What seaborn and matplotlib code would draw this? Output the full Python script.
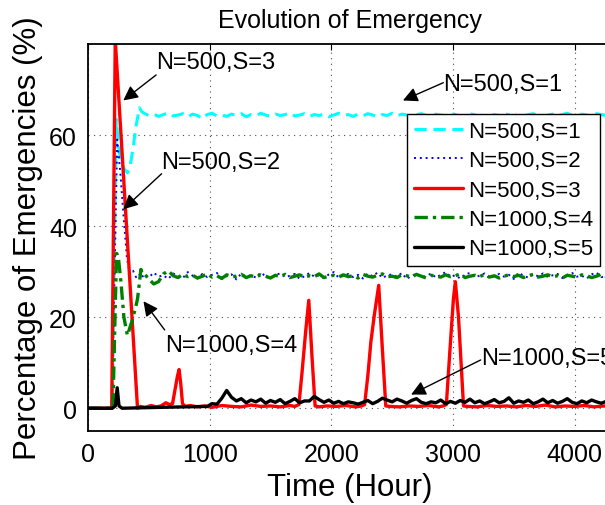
import matplotlib
matplotlib.use("Agg")
import seaborn as sns
from matplotlib import pyplot as plt

# time grid for the steady part of the curves (hours), runs a bit past the right edge
tail_hours = list(range(460, 4341, 40))

# N=500, S=1
s1_hours = [0, 150, 200, 215, 232, 250, 270, 300, 324, 345, 370, 395, 423, 440] + tail_hours
s1_vals = [0, 0, 0, 30, 63.5, 58, 54, 52.5, 51.7, 53, 57, 62, 66, 65.2,
           64.8, 64.3, 64.6, 64.1, 64.5, 64.9, 64.2, 64.4, 64.7, 64.0, 64.6, 64.3, 63.6, 64.5, 64.8, 64.2, 64.4, 64.1, 64.6, 64.3,
           64.7, 64.0, 64.5, 64.2, 64.8, 64.4, 64.1, 64.6, 64.3, 64.5, 64.9, 64.2, 64.4, 64.7, 64.1, 64.5, 64.3, 64.6, 64.0, 64.4,
           64.8, 64.3, 64.5, 64.1, 64.6, 64.2, 64.7, 64.4, 64.0, 64.5, 64.3, 64.8, 64.2, 64.6, 64.4, 64.1, 64.5, 64.7, 64.3, 64.0,
           64.6, 64.4, 64.2, 64.8, 64.5, 64.1, 64.3, 64.7, 64.4, 64.2, 64.6, 64.0, 64.5, 64.3, 64.8, 64.4, 64.1, 64.6, 64.2, 64.5,
           64.7, 64.3, 64.0, 64.4, 64.6, 64.2, 64.5, 64.8, 64.3, 64.1, 64.6, 64.4, 64.2, 64.7, 64.5, 64.3, 64.6, 64.4]

# N=500, S=2
s2_hours = [0, 195, 215, 240, 265, 290, 320, 345, 370, 395, 420, 440] + tail_hours
s2_vals = [0, 0, 25, 59, 52, 43, 33, 29.5, 30.2, 28.8, 29.5, 28.6,
           29.4, 28.7, 29.8, 28.9, 29.2, 28.4, 29.6, 29.0, 28.6, 29.9, 29.1, 28.5, 29.5, 28.8, 29.3, 29.7, 28.6, 29.0, 29.4, 28.3,
           29.6, 28.9, 29.2, 28.7, 29.8, 29.0, 28.5, 29.3, 29.6, 28.8, 29.1, 29.5, 28.4, 29.0, 29.7, 28.9, 29.2, 28.6, 29.4, 29.9,
           28.7, 29.1, 29.5, 28.8, 29.3, 28.5, 29.6, 29.0, 29.8, 28.6, 29.2, 29.4, 28.9, 29.7, 28.4, 29.1, 29.5, 28.8, 29.0, 29.6,
           28.7, 29.3, 29.9, 28.9, 29.2, 28.5, 29.4, 29.7, 28.8, 29.1, 29.6, 28.6, 29.0, 29.5, 28.9, 29.3, 28.4, 29.8, 29.1, 28.7,
           29.4, 29.0, 29.6, 28.8, 29.2, 29.5, 28.6, 29.3, 29.7, 28.9, 29.1, 28.5, 29.4, 29.8, 28.8, 29.0, 29.3, 28.7]

# N=500, S=3
s3_hours = [0, 195, 224, 407, 430, 470, 520, 560, 600, 640, 670, 695, 715, 735, 749, 762, 777, 800,
            840, 900, 960, 1020, 1100, 1180, 1260, 1340, 1420, 1500, 1580, 1660, 1700,
            1734, 1760, 1790, 1815, 1840, 1867, 1900, 1960, 2040, 2120, 2200, 2250,
            2274, 2300, 2326, 2354, 2390, 2420, 2448, 2480, 2560, 2640, 2720, 2800, 2880, 2920,
            2946, 2976, 3004, 3020, 3046, 3087, 3120, 3200, 3280, 3360, 3440, 3520, 3600,
            3680, 3760, 3840, 3920, 4000, 4080, 4160, 4240, 4300]
s3_vals = [0, 0, 81, 0, 0.4, 0.2, 0.6, 0.3, 0.5, 1.2, 0.8, 1.0, 4.0, 7.0, 8.5, 5.5, 1.0, 0.4,
           0.6, 0.3, 0.5, 0.2, 0.6, 0.4, 0.3, 0.7, 0.4, 0.5, 0.3, 0.6, 0.4,
           0.8, 8, 17, 23.7, 12, 0.5, 0.3, 0.5, 0.4, 0.6, 0.3, 0.5,
           0.8, 7, 14.7, 20.5, 27, 13, 0.5, 0.4, 0.3, 0.5, 0.4, 0.6, 0.3, 0.5,
           0.8, 13, 24, 27.8, 20, 0.5, 0.4, 0.3, 0.6, 0.4, 0.5, 0.3, 0.6,
           0.4, 0.7, 0.3, 0.5, 0.4, 0.6, 0.3, 0.5, 0.4]

# N=1000, S=4
s4_hours = [0, 205, 222, 235, 250, 270, 295, 324, 360, 390, 407, 420, 435, 445] + tail_hours
s4_vals = [0, 0, 20, 34, 33, 28, 20, 16, 19, 22, 24, 27, 30.5, 29.6,
           29.6, 28.4, 27.3, 27.8, 29.5, 30.2, 29.1, 28.7, 29.4, 28.9, 29.2, 28.6, 29.0, 29.5, 28.8, 29.1, 28.5, 29.3, 28.9, 29.0,
           29.4, 28.7, 29.1, 28.8, 29.3, 29.0, 28.6, 29.2, 28.9, 29.4, 28.7, 29.0, 29.3, 28.8, 29.1, 28.9, 29.5, 28.7, 29.0, 29.2,
           28.8, 29.3, 28.9, 29.1, 28.6, 29.4, 29.0, 28.8, 29.2, 29.5, 28.9, 29.0, 28.7, 29.3, 29.1, 28.8, 29.4, 29.0, 28.6, 29.2,
           29.0, 28.8, 29.3, 28.9, 29.1, 29.5, 28.7, 29.0, 29.2, 28.9, 29.4, 28.8, 29.1, 28.6, 29.0, 29.3, 28.9, 29.2, 28.7, 29.1,
           29.4, 28.8, 29.0, 29.3, 28.9, 29.1, 28.6, 29.2, 29.0, 28.8, 29.3, 29.1, 28.7, 29.0, 29.4, 28.9, 29.1, 28.8]

# N=1000, S=5
s5_hours = [0, 200, 225, 240, 255, 280, 600, 980] + list(range(1020, 4301, 40))
s5_vals = [0, 0, 0.5, 4.5, 0.5, 0, 0.2, 0.4,
           1.0, 0.9, 2.2, 3.9, 2.4, 1.6, 2.1, 1.2, 1.8, 1.4, 2.0, 1.1, 1.7, 1.3, 1.9, 1.0, 1.5, 2.1, 1.2, 1.6,
           1.6, 2.6, 1.9, 1.3, 1.8, 1.1, 1.5, 1.0, 1.4, 1.2, 0.9, 1.3, 1.7, 1.0, 1.5, 2.2, 1.8, 1.4, 2.0, 1.6,
           1.1, 1.7, 2.1, 1.3, 1.0, 1.4, 1.2, 1.8, 1.0, 1.5, 1.1, 1.7, 1.3, 2.0, 1.2, 1.6, 1.0, 1.4, 1.9, 1.2,
           1.5, 2.3, 1.1, 1.6, 1.3, 1.8, 1.0, 1.4, 2.0, 1.2, 1.7, 1.1, 1.5, 2.1, 1.3, 1.0, 1.6, 1.2, 1.8, 1.4,
           1.1, 1.5, 1.3]

labels = ["N=500,S=1", "N=500,S=2", "N=500,S=3", "N=1000,S=4", "N=1000,S=5"]

sns.set_style("white")
plt.rcParams['font.family'] = ['Liberation Sans', 'DejaVu Sans']
plt.rcParams['text.color'] = 'k'
plt.rcParams['axes.labelcolor'] = 'k'

fig = plt.figure(figsize=(6.05, 5.06), dpi=100)
ax = fig.add_axes([88 / 605, 74 / 506, 1 - 88 / 605 + 0.01, (432 - 45) / 506])

sns.lineplot(x=s1_hours, y=s1_vals, ax=ax, color="#00ffff", lw=2.2, linestyle=(0, (4, 2.2)),
             label=labels[0], estimator=None, sort=False)
sns.lineplot(x=s2_hours, y=s2_vals, ax=ax, color="#0000ff", lw=1.4, linestyle=(0, (1, 2)),
             label=labels[1], estimator=None, sort=False)
sns.lineplot(x=s3_hours, y=s3_vals, ax=ax, color="#ff0000", lw=2.4, linestyle="-",
             label=labels[2], estimator=None, sort=False)
sns.lineplot(x=s4_hours, y=s4_vals, ax=ax, color="#008000", lw=2.4, linestyle=(0, (4, 1.5, 1, 1.5)),
             label=labels[3], estimator=None, sort=False)
sns.lineplot(x=s5_hours, y=s5_vals, ax=ax, color="#000000", lw=2.4, linestyle="-",
             label=labels[4], estimator=None, sort=False)

ax.set_xlim(0, 4300)
ax.set_ylim(-5, 80)
ax.set_xticks([0, 1000, 2000, 3000, 4000])
ax.set_yticks([0, 20, 40, 60])
ax.grid(True, ls=(0, (1, 4)), color='0.3', lw=0.8)
ax.tick_params(direction='in', top=True, right=False, length=4, labelsize=18, pad=8, colors='k')
for side in ['left', 'bottom', 'top', 'right']:
    ax.spines[side].set_color('k')
    ax.spines[side].set_linewidth(1.3)

ax.set_title("Evolution of Emergency", fontsize=18, pad=12)
ax.set_xlabel("Time (Hour)", fontsize=22.5, labelpad=4)
ax.set_ylabel("Percentage of Emergencies (%)", fontsize=22.5, labelpad=4)

# annotations: text on its own, arrow drawn from tail to tip
arrow = dict(arrowstyle='-|>', color='k', lw=1.0, mutation_scale=22, shrinkA=0, shrinkB=0)
notes = [
    ("N=500,S=3", (560, 76.1), (560, 73.2), (290, 67.6)),
    ("N=500,S=2", (605, 54.1), (605, 51.5), (290, 43.7)),
    ("N=1000,S=4", (630, 13.9), (630, 17.2), (456, 23.5)),
    ("N=500,S=1", (2921, 71.3), (2921, 71.5), (2589, 67.6)),
    ("N=1000,S=5", (3228, 11.1), (3228, 10.6), (2656, 3.0)),
]
for txt, pos, tail, tip in notes:
    ax.text(pos[0], pos[1], txt, fontsize=17, ha='left', va='center', clip_on=False)
    ax.annotate('', xy=tip, xytext=tail, arrowprops=arrow)

leg = ax.legend(loc='upper right', bbox_to_anchor=((604 - 88) / 527, (432 - 115) / 387),
                fontsize=16, frameon=True, fancybox=False, framealpha=1, edgecolor='k',
                borderpad=0.3, labelspacing=0.38, handlelength=2.2, handletextpad=0.25,
                borderaxespad=0)
leg.get_frame().set_linewidth(1.0)

fig.savefig("out.png", dpi=100)
